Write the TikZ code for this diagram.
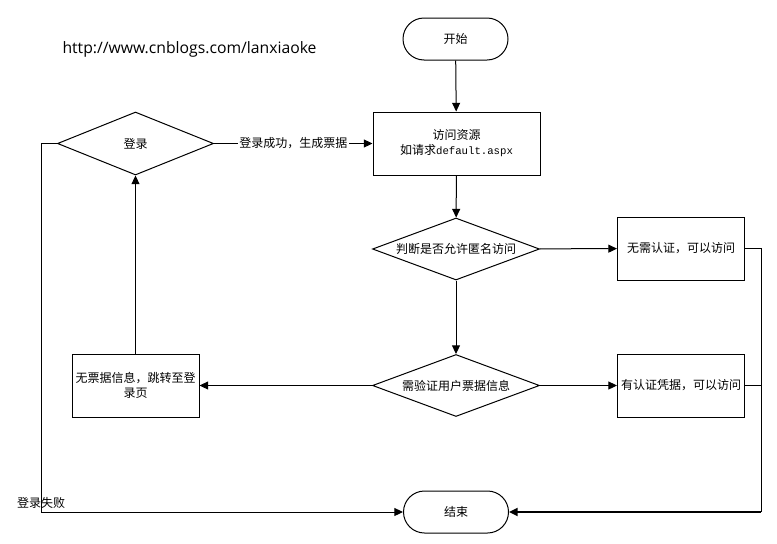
\documentclass[tikz,border=0pt]{standalone}
\usepackage{fontspec}
\setmainfont{Noto Sans CJK SC}
\newfontfamily\urlfont{Open Sans}
\newfontfamily\codefont{Liberation Mono}
\usetikzlibrary{shapes.geometric, arrows.meta, positioning, calc}

\begin{document}
\begin{tikzpicture}[x=0.75pt, y=-0.75pt, line width=0.75pt,
    font=\fontsize{9pt}{11.25pt}\selectfont,
    terminal/.style={draw, rectangle, rounded corners=15.75pt,
        minimum width=78.75pt, minimum height=31.5pt},
    process/.style={draw, rectangle, inner sep=2pt, align=center,
        minimum width=95.25pt, minimum height=47.25pt},
    decision/.style={draw, diamond, aspect=2.7, inner sep=0pt,
        minimum width=125.25pt, minimum height=46.5pt},
    flow/.style={-{Triangle[length=6.5pt, width=6pt]}}]
    \useasboundingbox (0,0) rectangle (777,543);

    % Site address
    \node[font=\urlfont\fontsize{11.8pt}{14pt}\selectfont, anchor=west, inner sep=0pt] (site) at (62,49) {http://www.cnblogs.com/lanxiaoke};

    % Main column
    \node[terminal] (start) at (455.5,39) {开始};
    \node[process, minimum width=125.25pt] (visit) at (456.5,143.5) {访问资源\\如请求{\codefont\fontsize{8pt}{11.25pt}\selectfont default.aspx}};
    \node[decision] (anon) at (456,249) {判断是否允许匿名访问};
    \node[decision] (check) at (456,385.5) {需验证用户票据信息};
    \node[terminal] (end) at (456,512) {结束};

    % Right column
    \node[process] (free) at (681,248.5) {无需认证，可以访问};
    \node[process] (pass) at (681,385.5) {有认证凭据，可以访问};

    % Left column
    \node[decision, minimum width=117pt, minimum height=47.25pt] (login) at (135.5,143.5) {登录};
    \node[process] (noticket) at (135.5,385.5) {无票据信息，跳转至登\\录页};

    % Connectors
    \draw[flow] (start) -- (visit);
    \draw[flow] (visit) -- (anon);
    \draw[flow] (anon) -- (free);
    \draw[flow] (anon) -- (check);
    \draw[flow] (check) -- (pass);
    \draw[flow] (check) -- (noticket);
    \draw[flow] (noticket) -- (login);
    \draw[flow] (login) -- node[fill=white, inner sep=1pt] (oktext) {登录成功，生成票据} (visit);

    % Login failed
    \coordinate (failcorner) at (41,512);
    \draw[flow] (login.west) -| (failcorner) -- (end);
    \node[anchor=south, inner sep=2pt] (failtext) at (failcorner) {登录失败};

    % Access granted
    \coordinate (okcorner) at (761,512);
    \draw (free.east) -| (okcorner);
    \draw (pass.east) -- (pass.east -| okcorner);
    \draw[flow, line width=1.5pt] (okcorner) -- (end);
\end{tikzpicture}
\end{document}
